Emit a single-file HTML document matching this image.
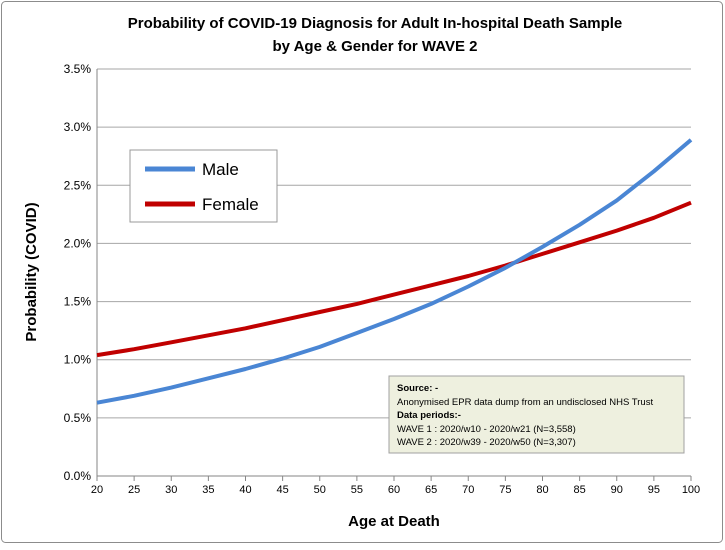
<!DOCTYPE html>
<html><head><meta charset="utf-8"><style>
body{margin:0;background:#fff;font-family:"Liberation Sans",sans-serif}
svg text{font-family:"Liberation Sans",sans-serif}
</style></head><body>
<svg id="chart" width="725" height="545" xmlns="http://www.w3.org/2000/svg">
<rect x="1.5" y="1.5" width="721" height="541" rx="4" fill="#fff" stroke="#8c8c8c"/>
<text x="375" y="28" text-anchor="middle" font-size="15" font-weight="bold">Probability of COVID-19 Diagnosis for Adult In-hospital Death Sample</text>
<text x="375" y="51" text-anchor="middle" font-size="15" font-weight="bold">by Age &amp; Gender for WAVE 2</text>
<g id="grid"></g><g id="axes"></g><g id="series"></g>
<text transform="translate(36,272) rotate(-90)" text-anchor="middle" font-size="15" font-weight="bold">Probability (COVID)</text>
<text x="394" y="526" text-anchor="middle" font-size="15" font-weight="bold">Age at Death</text>
<g>
<rect x="130" y="150" width="147" height="72" fill="#fff" stroke="#999"/>
<line x1="145" y1="169" x2="195" y2="169" stroke="#4a86d4" stroke-width="5"/>
<text x="202" y="175" font-size="17">Male</text>
<line x1="145" y1="204" x2="195" y2="204" stroke="#c00000" stroke-width="5"/>
<text x="202" y="210" font-size="17">Female</text>
</g>
<g>
<rect x="389" y="376" width="295" height="77" fill="#eef0df" stroke="#a0a0a0"/>
<text x="397" y="391" font-size="9.5" font-weight="bold">Source: -</text>
<text x="397" y="405" font-size="9.5">Anonymised EPR data dump from an undisclosed NHS Trust</text>
<text x="397" y="418" font-size="9.5" font-weight="bold">Data periods:-</text>
<text x="397" y="432" font-size="9.5">WAVE 1 : 2020/w10 - 2020/w21 (N=3,558)</text>
<text x="397" y="445" font-size="9.5">WAVE 2 : 2020/w39 - 2020/w50 (N=3,307)</text>
</g>
</svg>
<script>
const ages=[20,25,30,35,40,45,50,55,60,65,70,75,80,85,90,95,100];
const male=[0.63,0.69,0.76,0.84,0.92,1.01,1.11,1.23,1.35,1.48,1.63,1.79,1.97,2.16,2.37,2.62,2.89];
const female=[1.04,1.09,1.15,1.21,1.27,1.34,1.41,1.48,1.56,1.64,1.72,1.81,1.91,2.01,2.11,2.22,2.35];
const yTicks=[0,0.5,1.0,1.5,2.0,2.5,3.0,3.5];
const xTicks=[20,25,30,35,40,45,50,55,60,65,70,75,80,85,90,95,100];
const X0=97,X1=691,Y0=476,Y1=69;
const xs=v=>X0+(v-20)/80*(X1-X0);
const ys=v=>Y0-v/3.5*(Y0-Y1);
const NS="http://www.w3.org/2000/svg";
function mk(t,a,p){const e=document.createElementNS(NS,t);for(const k in a)e.setAttribute(k,a[k]);p.appendChild(e);return e;}
const grid=document.getElementById('grid'),axes=document.getElementById('axes'),ser=document.getElementById('series');
yTicks.forEach(t=>{
 const l=mk('line',{x1:X0,x2:X1,y1:ys(t),y2:ys(t),stroke:t===0?'#868686':'#a6a6a6','stroke-width':1},grid);
 
 
 const tx=mk('text',{x:X0-6,y:ys(t)+4,'text-anchor':'end','font-size':12},axes);
 tx.textContent=t.toFixed(1)+'%';
 
 
});
mk('line',{x1:X0,x2:X0,y1:Y1,y2:Y0,stroke:'#868686'},axes);
xTicks.forEach(t=>{
 mk('line',{x1:xs(t),x2:xs(t),y1:Y0,y2:Y0+5,stroke:'#868686'},axes);
 const tx=mk('text',{x:xs(t),y:Y0+17,'text-anchor':'middle','font-size':11},axes);
 tx.textContent=t;
 
 
});
function line(vals,color,name){
 const d=ages.map((a,i)=>(i?'L':'M')+xs(a).toFixed(1)+' '+ys(vals[i]).toFixed(1)).join(' ');
 const p=mk('path',{d:d,fill:'none',stroke:color,'stroke-width':4,'stroke-linejoin':'round'},ser);
 
 
}
line(female,'#c00000','female-line');
line(male,'#4a86d4','male-line');
</script>
</body></html>
